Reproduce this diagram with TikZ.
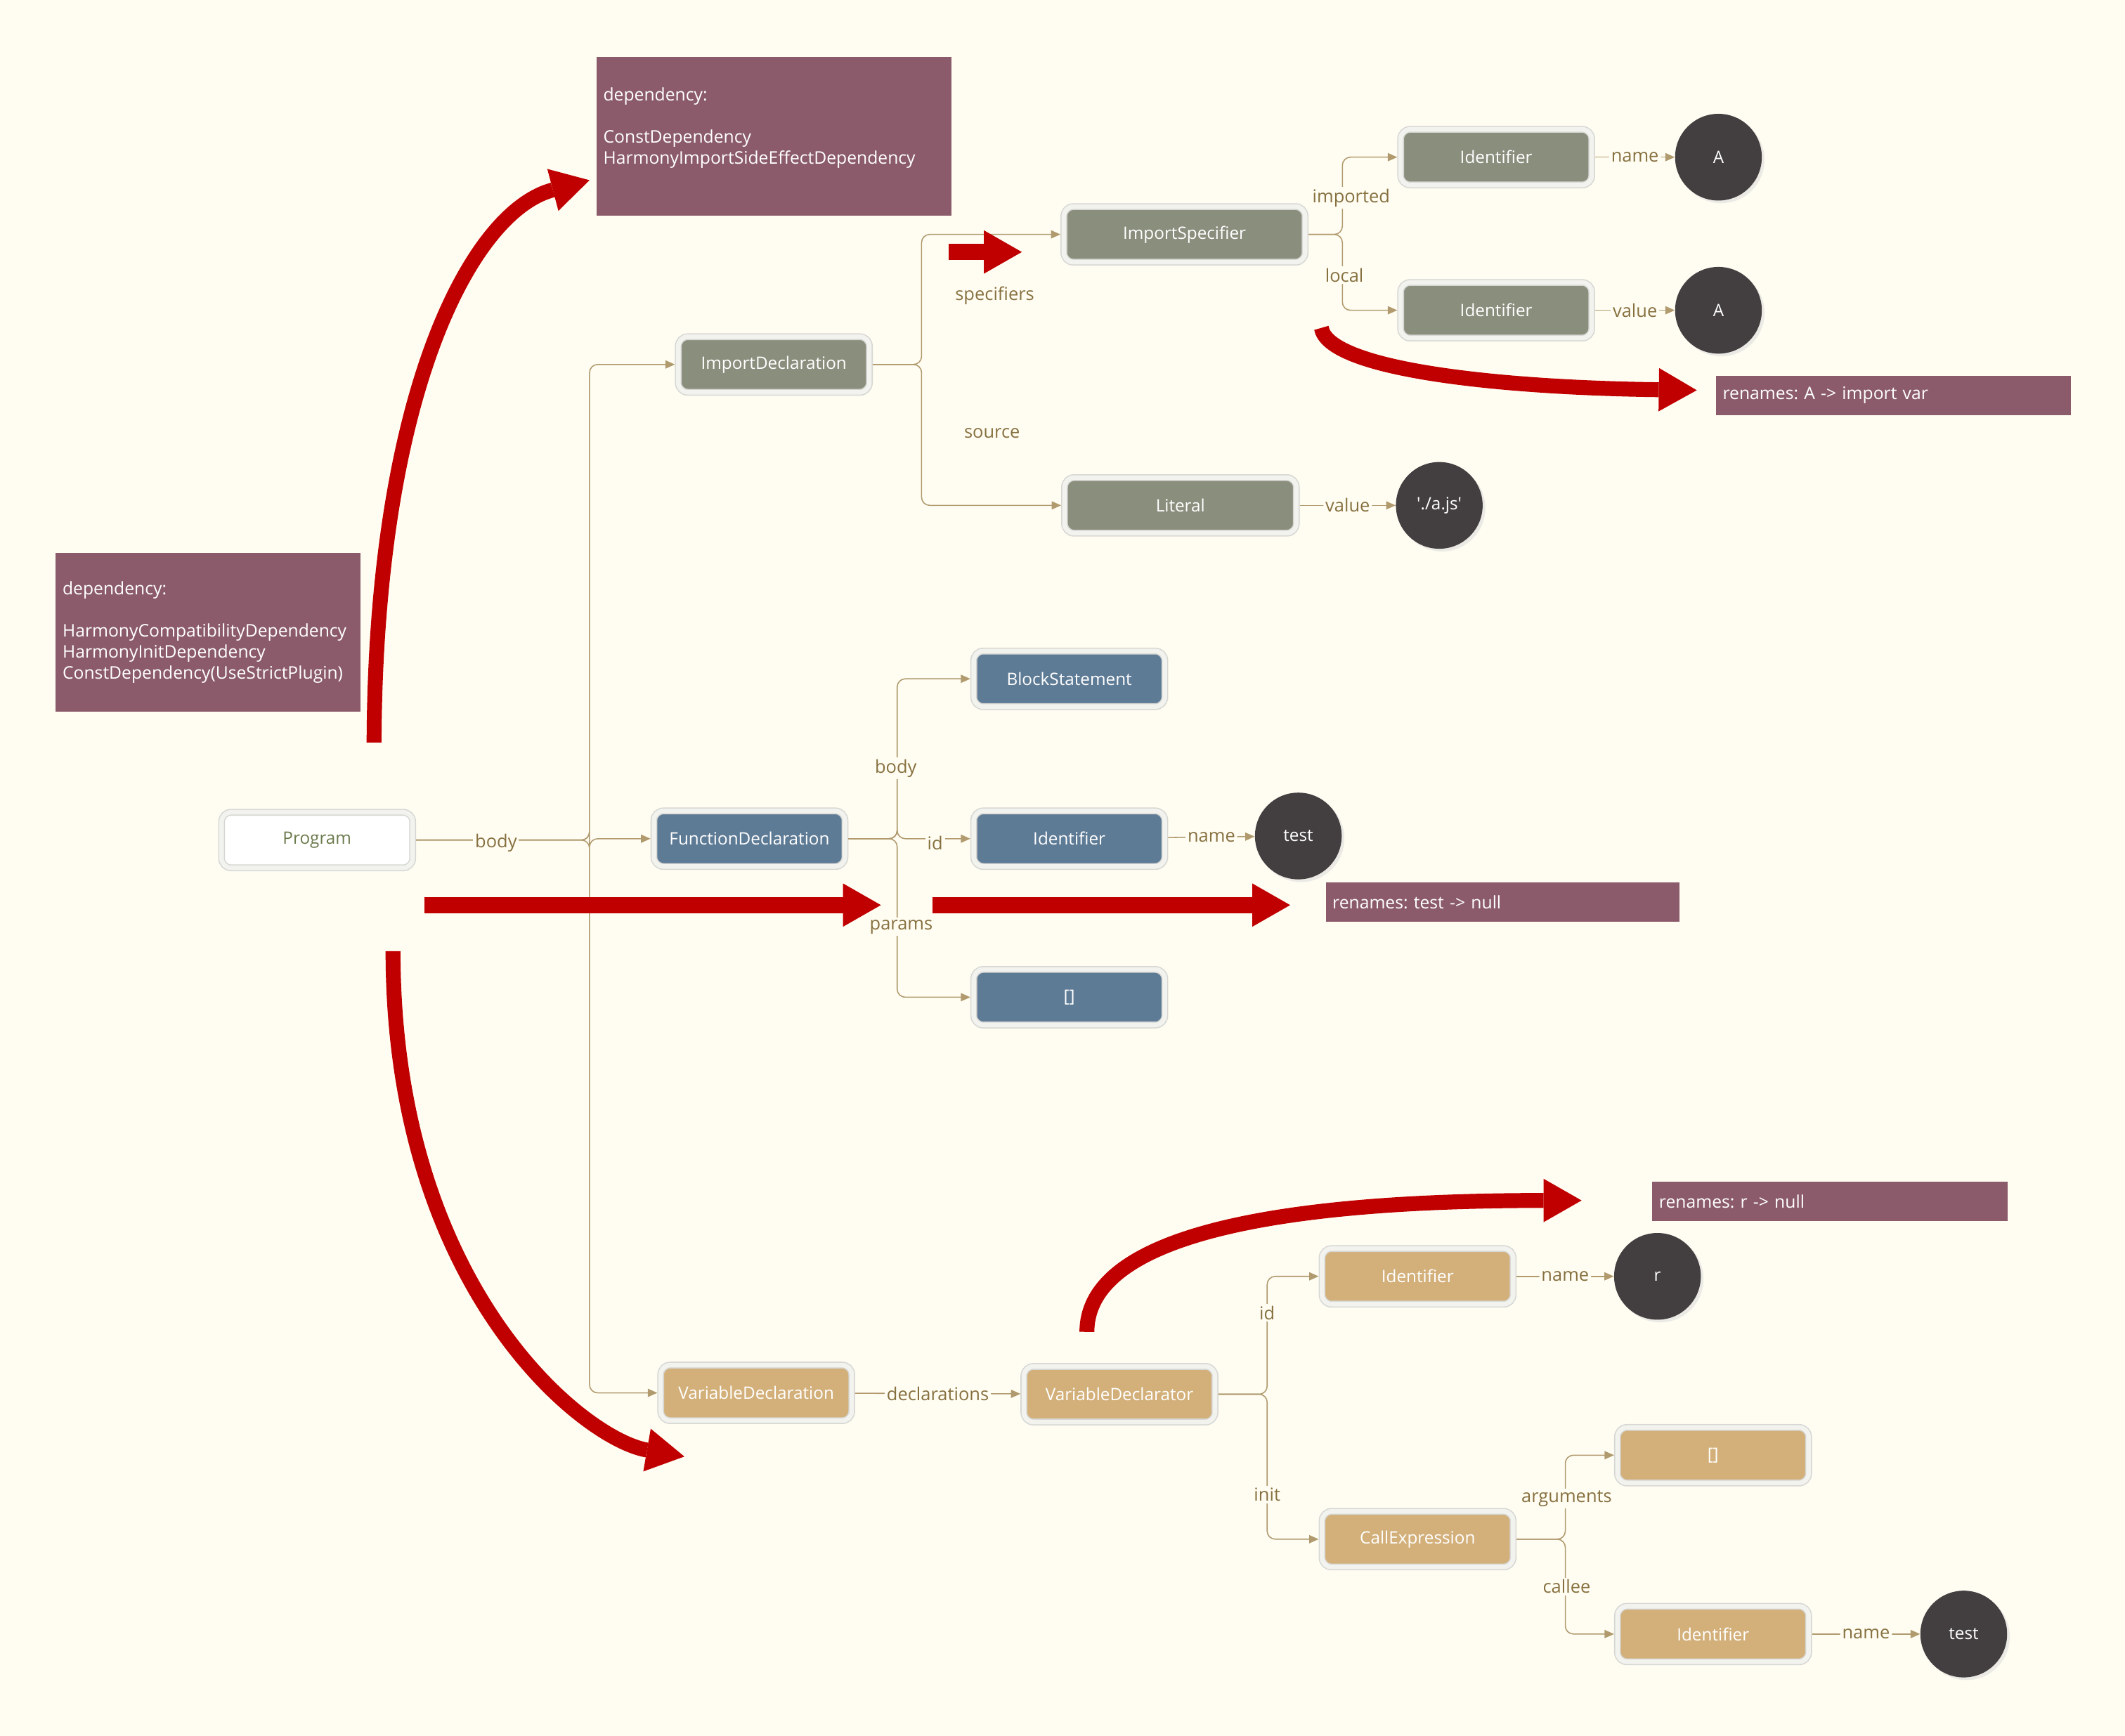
\documentclass[tikz,border=0pt]{standalone}
\usepackage{fontspec}
\setmainfont{Open Sans}
\usepackage{tikz}
\usetikzlibrary{arrows.meta, shadows, calc}
\frenchspacing

\definecolor{bgcream}{HTML}{FFFDF2}
\definecolor{astgray}{HTML}{8A8E7D}
\definecolor{astblue}{HTML}{5E7B96}
\definecolor{asttan}{HTML}{D3B07A}
\definecolor{leafdark}{HTML}{433F40}
\definecolor{notepurple}{HTML}{8B5B6B}
\definecolor{markred}{HTML}{C00000}
\definecolor{linktan}{HTML}{B09A6E}
\definecolor{labeltan}{HTML}{86703F}
\definecolor{framegray}{HTML}{D6D6D3}
\definecolor{framefill}{HTML}{F2F2EF}
\definecolor{programtext}{HTML}{6B7A4C}

\begin{document}
\begin{tikzpicture}[x=1pt, y=-1pt,
    ast/.style={rectangle, rounded corners=7pt, fill=#1, draw=framegray, line width=0.8pt,
        double=framefill, double distance=3.4pt, minimum width=141pt, minimum height=41pt,
        inner sep=0pt, outer sep=2.5pt, text=white, font=\fontsize{12.6}{14}\selectfont},
    leaf/.style={circle, fill=leafdark, minimum size=64pt, inner sep=0pt, text=white,
        font=\fontsize{12.6}{14}\selectfont,
        drop shadow={shadow xshift=2pt, shadow yshift=-2pt, fill=black!15}},
    dep/.style={rectangle, fill=notepurple, text=white, align=left, anchor=north west,
        inner xsep=5pt, inner ysep=0pt, text width=252pt, font=\fontsize{12.8}{15.5}\selectfont},
    link/.style={draw=linktan, line width=0.8pt, rounded corners=6pt,
        -{Triangle[length=7pt,width=6pt]}},
    elabel/.style={fill=bgcream, text=labeltan, inner sep=1.5pt, font=\fontsize{13.2}{15}\selectfont},
    redarrow/.style={draw=markred, line width=11pt,
        -{Triangle[length=28pt,width=32pt,line width=0pt]}}]

    % Sfondo
    \fill[bgcream] (0,0) rectangle (1568,1281);
    \useasboundingbox (0,0) rectangle (1568,1281);

    % Radice
    \node[ast=white, text=programtext] (program) at (234,620) {Program};

    % Import
    \node[ast=astgray] (impdecl) at (571,269) {ImportDeclaration};
    \node[ast=astgray, minimum width=178pt] (impspec) at (874,173) {ImportSpecifier};
    \node[ast=astgray, minimum width=171pt] (literal) at (871,373) {Literal};
    \node[ast=astgray] (idimported) at (1104,116) {Identifier};
    \node[ast=astgray] (idlocal) at (1104,229) {Identifier};
    \node[leaf] (leafa) at (1268,116) {A};
    \node[leaf] (leafb) at (1268,229) {A};
    \node[leaf] (leafsrc) at (1062,373) {\textquotesingle./a.js\textquotesingle};

    % Funzione
    \node[ast=astblue] (fundecl) at (553,619) {FunctionDeclaration};
    \node[ast=astblue] (block) at (789,501) {BlockStatement};
    \node[ast=astblue] (idtest) at (789,619) {Identifier};
    \node[ast=astblue] (params) at (789,736) {[]};
    \node[leaf] (leaftest) at (958,617) {test};

    % Variabile
    \node[ast=asttan] (vardecl) at (558,1028) {VariableDeclaration};
    \node[ast=asttan] (vardeclr) at (826,1029) {VariableDeclarator};
    \node[ast=asttan] (idr) at (1046,942) {Identifier};
    \node[leaf] (leafr) at (1223,942) {r};
    \node[ast=asttan] (callexpr) at (1046,1136) {CallExpression};
    \node[ast=asttan] (args) at (1264,1074) {[]};
    \node[ast=asttan] (callee) at (1264,1206) {Identifier};
    \node[leaf] (leafcallee) at (1449,1206) {test};

    % Note
    \node[dep, minimum width=262pt, minimum height=117pt] (depimport) at (440,42)
        {dependency:\\[15.5pt]ConstDependency\\HarmonyImportSideEffectDependency\\\mbox{}};
    \node[dep, text width=215pt, minimum height=117pt] (depprogram) at (41,408)
        {dependency:\\[15.5pt]HarmonyCompatibilityDependency\\HarmonyInitDependency\\ConstDependency(UseStrictPlugin)};
    \node[dep, minimum height=29pt] (renamea) at (1266,277) {renames: A -> import var};
    \node[dep, text width=251pt, minimum height=29pt] (renametest) at (978,651) {renames: test -> null};
    \node[dep, minimum height=29pt] (renamer) at (1219,872) {renames: r -> null};

    % Connessioni
    \draw[link] (program.east) -- ++(128,0) |- (impdecl.west);
    \draw[link] (program.east) -- ++(128,0) |- (fundecl.west);
    \draw[link] (program.east) -- ++(128,0) |- (vardecl.west);

    \draw[link] (impdecl.east) -- ++(36,0) |- (impspec.west);
    \draw[link] (impdecl.east) -- ++(36,0) |- (literal.west);
    \draw[link] (impspec.east) -- ++(25,0) |- (idimported.west);
    \draw[link] (impspec.east) -- ++(25,0) |- (idlocal.west);
    \draw[link] (idimported) -- node[elabel] (lnamea) {name} (leafa);
    \draw[link] (idlocal) -- node[elabel] (lvaluea) {value} (leafb);
    \draw[link] (literal) -- node[elabel] (lvaluesrc) {value} (leafsrc);

    \draw[link] (fundecl.east) -- ++(36,0) |- (block.west);
    \draw[link] (fundecl.east) -- ++(36,0) |- (idtest.west);
    \draw[link] (fundecl.east) -- ++(36,0) |- (params.west);
    \draw[link] (idtest) -- node[elabel] (lnametest) {name} (leaftest);

    \draw[link] (vardecl) -- node[elabel] (ldecl) {declarations} (vardeclr);
    \draw[link] (vardeclr.east) -- ++(36,0) |- (idr.west);
    \draw[link] (vardeclr.east) -- ++(36,0) |- (callexpr.west);
    \draw[link] (idr) -- node[elabel] (lnamer) {name} (leafr);
    \draw[link] (callexpr.east) -- ++(36,0) |- (args.west);
    \draw[link] (callexpr.east) -- ++(36,0) |- (callee.west);
    \draw[link] (callee) -- node[elabel] (lnamecallee) {name} (leafcallee);

    % Etichette
    \node[elabel] (lbody) at (366,622) {body};
    \node[elabel] (lspecifiers) at (734,218) {specifiers};
    \node[elabel] (lsource) at (732,320) {source};
    \node[elabel] (limported) at (997,146) {imported};
    \node[elabel] (llocal) at (992,203) {local};
    \node[elabel] (lfbody) at (661,567) {body};
    \node[elabel] (lid) at (690,622) {id};
    \node[elabel] (lparams) at (665,684) {params};
    \node[elabel] (lidr) at (935,969) {id};
    \node[elabel] (linit) at (935,1103) {init};
    \node[elabel] (largs) at (1156,1106) {arguments};
    \node[elabel] (lcallee) at (1156,1171) {callee};

    % Frecce rosse
    \coordinate (upfrom) at (276,548);
    \coordinate (upto) at (435,133);
    \coordinate (downfrom) at (290,702);
    \coordinate (downto) at (505,1075);
    \coordinate (specfrom) at (700,186);
    \coordinate (specto) at (754,186);
    \coordinate (localfrom) at (975,242);
    \coordinate (localto) at (1252,288);
    \coordinate (funfrom) at (313,668);
    \coordinate (funto) at (650,668);
    \coordinate (idfrom) at (688,668);
    \coordinate (idto) at (952,668);
    \coordinate (declrfrom) at (802,983);
    \coordinate (declrto) at (1167,886);

    \draw[redarrow] (upfrom) .. controls (277,290) and (348,156) .. (upto);
    \draw[redarrow] (downfrom) .. controls (290,950) and (430,1062) .. (downto);
    \draw[redarrow, line width=12pt] (specfrom) -- (specto);
    \draw[redarrow] (localfrom) .. controls (980,272) and (1100,286) .. (localto);
    \draw[redarrow, line width=12pt] (funfrom) -- (funto);
    \draw[redarrow, line width=12pt] (idfrom) -- (idto);
    \draw[redarrow] (declrfrom) .. controls (802,915) and (930,886) .. (declrto);
\end{tikzpicture}
\end{document}
